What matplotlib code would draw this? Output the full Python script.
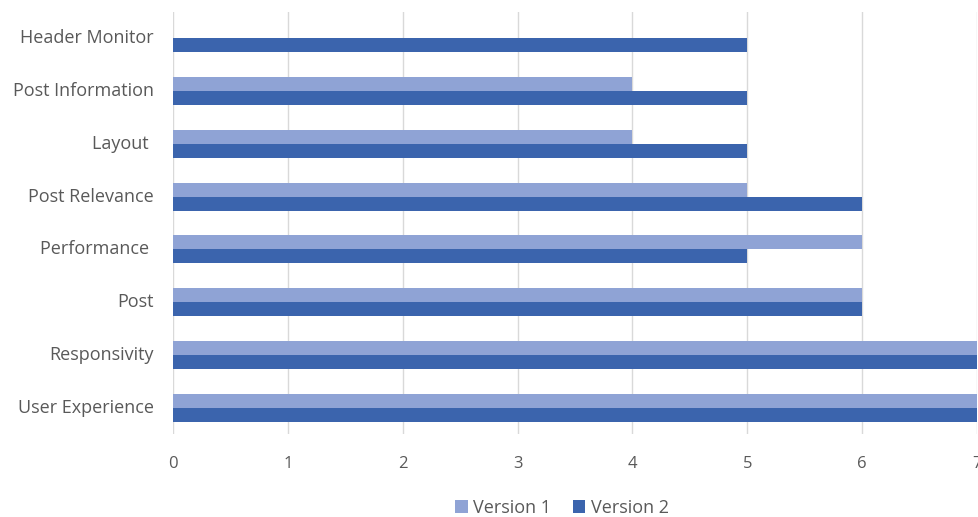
import matplotlib
matplotlib.use("Agg")
import matplotlib.pyplot as plt
import numpy as np

categories = ["User Experience", "Responsivity", "Post", "Performance ",
              "Post Relevance", "Layout ", "Post Information", "Header Monitor"]
version1 = [7, 7, 6, 6, 5, 4, 4, 0]
version2 = [7, 7, 6, 5, 6, 5, 5, 5]
xticks = [0, 1, 2, 3, 4, 5, 6, 7]

c1 = "#8FA3D5"
c2 = "#3B64AD"
txt = "#595959"
grid = "#D9D9D9"

plt.rcParams['font.family'] = ['Open Sans', 'DejaVu Sans']

fig = plt.figure(figsize=(9.79, 5.17), dpi=100)
ax = fig.add_axes([173/979, 1 - 434/517, (977-173)/979, (434-12)/517])

y = np.arange(len(categories))
h = 0.265
ax.barh(y + h/2, version1, height=h, color=c1, label="Version 1", zorder=3)
ax.barh(y - h/2, version2, height=h, color=c2, label="Version 2", zorder=3)

ax.set_xlim(0, 7)
ax.set_ylim(-0.5, len(categories) - 0.5)
ax.set_xticks(xticks)
ax.set_xticklabels([str(t) for t in xticks])
ax.set_yticks(y)
ax.set_yticklabels(categories)
ax.tick_params(axis='both', length=0, colors=txt)
ax.tick_params(axis='x', pad=16, labelsize=12)
ax.tick_params(axis='y', pad=14, labelsize=13)
for lab in ax.get_yticklabels():
    lab.set_verticalalignment('center')
for s in ax.spines.values():
    s.set_visible(False)
ax.xaxis.grid(True, color=grid, linewidth=1, zorder=0)
ax.set_axisbelow(True)

fig.legend(loc='center', bbox_to_anchor=(562/979, 1 - 508/517), ncol=2,
           frameon=False, fontsize=13, handlelength=0.7, handleheight=0.7,
           handletextpad=0.3, columnspacing=1.2, labelcolor=txt)

fig.savefig("out.png", dpi=100)
